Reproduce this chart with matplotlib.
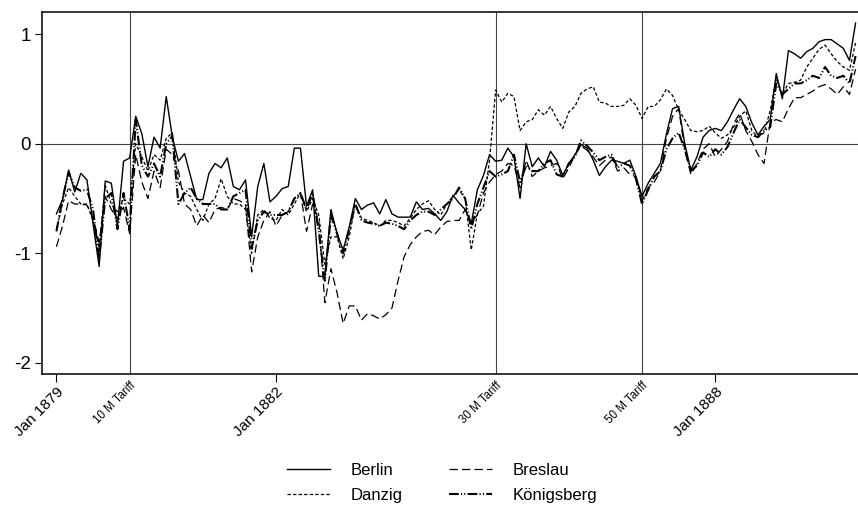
import numpy as np
import matplotlib
matplotlib.use("Agg")
import matplotlib.pyplot as plt

plt.rcParams["font.family"] = ["Liberation Sans", "DejaVu Sans"]
plt.rcParams["lines.scale_dashes"] = False

# monthly index, 0 = Jan 1879 ... 131 = Dec 1889
berlin = [
    -0.64, -0.51, -0.24, -0.44, -0.27, -0.33, -0.73, -1.12, -0.34, -0.36,
    -0.75, -0.16, -0.13, 0.25, 0.09, -0.21, 0.06, -0.04, 0.43, 0.06,
    -0.16, -0.09, -0.30, -0.51, -0.51, -0.27, -0.18, -0.22, -0.13, -0.39,
    -0.42, -0.33, -0.85, -0.39, -0.18, -0.53, -0.48, -0.41, -0.39, -0.04,
    -0.04, -0.57, -0.42, -1.21, -1.21, -0.60, -0.82, -0.97, -0.76, -0.50,
    -0.60, -0.56, -0.54, -0.64, -0.51, -0.64, -0.67, -0.67, -0.67, -0.53,
    -0.60, -0.59, -0.64, -0.70, -0.62, -0.47, -0.54, -0.60, -0.73, -0.42,
    -0.29, -0.10, -0.16, -0.15, -0.04, -0.12, -0.50, 0.00, -0.21, -0.13,
    -0.21, -0.07, -0.15, -0.29, -0.18, -0.10, -0.01, -0.04, -0.15, -0.29,
    -0.21, -0.15, -0.16, -0.18, -0.15, -0.30, -0.48, -0.36, -0.27, -0.18,
    0.09, 0.32, 0.34, 0.00, -0.24, -0.12, 0.06, 0.12, 0.14, 0.12,
    0.20, 0.31, 0.41, 0.34, 0.19, 0.08, 0.16, 0.22, 0.64, 0.41,
    0.85, 0.82, 0.78, 0.84, 0.87, 0.93, 0.95, 0.95, 0.91, 0.87,
    0.76, 1.10,
]

danzig = [
    -0.78, -0.55, -0.40, -0.48, -0.55, -0.55, -0.70, -0.95, -0.38, -0.55,
    -0.62, -0.50, -0.55, 0.00, -0.12, -0.25, -0.10, -0.15, 0.05, 0.10,
    -0.35, -0.45, -0.48, -0.60, -0.70, -0.55, -0.50, -0.32, -0.48, -0.55,
    -0.55, -0.60, -1.00, -0.65, -0.60, -0.68, -0.70, -0.60, -0.65, -0.55,
    -0.45, -0.62, -0.50, -0.65, -1.10, -0.85, -0.85, -1.05, -0.85, -0.55,
    -0.68, -0.70, -0.72, -0.75, -0.70, -0.70, -0.72, -0.75, -0.68, -0.60,
    -0.55, -0.52, -0.60, -0.65, -0.55, -0.48, -0.42, -0.50, -0.97, -0.64,
    -0.57, -0.15, 0.49, 0.38, 0.46, 0.43, 0.12, 0.20, 0.22, 0.31,
    0.26, 0.34, 0.23, 0.14, 0.29, 0.34, 0.46, 0.50, 0.52, 0.38,
    0.37, 0.34, 0.34, 0.35, 0.41, 0.35, 0.23, 0.34, 0.34, 0.40,
    0.50, 0.44, 0.31, 0.22, 0.12, 0.11, 0.12, 0.16, 0.10, 0.05,
    0.08, 0.15, 0.25, 0.30, 0.12, 0.06, 0.10, 0.30, 0.60, 0.45,
    0.55, 0.56, 0.58, 0.70, 0.78, 0.86, 0.90, 0.82, 0.75, 0.70,
    0.67, 0.92,
]

breslau = [
    -0.94, -0.75, -0.52, -0.55, -0.55, -0.56, -0.68, -0.90, -0.48, -0.60,
    -0.68, -0.58, -0.82, -0.10, -0.35, -0.50, -0.25, -0.40, -0.05, -0.10,
    -0.25, -0.55, -0.60, -0.75, -0.65, -0.72, -0.60, -0.58, -0.60, -0.50,
    -0.52, -0.55, -1.17, -0.85, -0.70, -0.62, -0.75, -0.65, -0.62, -0.50,
    -0.45, -0.80, -0.55, -0.70, -1.45, -1.14, -1.36, -1.64, -1.48, -1.48,
    -1.61, -1.55, -1.57, -1.60, -1.56, -1.50, -1.25, -1.03, -0.92, -0.85,
    -0.80, -0.79, -0.83, -0.76, -0.71, -0.70, -0.70, -0.60, -0.72, -0.65,
    -0.45, -0.35, -0.28, -0.25, -0.18, -0.20, -0.40, -0.15, -0.30, -0.25,
    -0.22, -0.20, -0.18, -0.32, -0.22, -0.10, -0.02, -0.06, -0.12, -0.20,
    -0.15, -0.12, -0.25, -0.22, -0.28, -0.30, -0.52, -0.40, -0.35, -0.25,
    0.05, 0.25, 0.32, -0.05, -0.28, -0.18, -0.05, 0.00, -0.12, -0.05,
    0.02, 0.18, 0.28, 0.12, 0.02, -0.10, -0.18, 0.20, 0.22, 0.20,
    0.32, 0.42, 0.42, 0.45, 0.48, 0.52, 0.54, 0.50, 0.45, 0.52,
    0.45, 0.68,
]

koenigsberg = [
    -0.80, -0.50, -0.26, -0.40, -0.43, -0.42, -0.60, -1.05, -0.50, -0.45,
    -0.78, -0.45, -0.78, 0.22, -0.20, -0.30, -0.18, -0.30, 0.00, 0.07,
    -0.55, -0.45, -0.40, -0.50, -0.55, -0.55, -0.55, -0.60, -0.60, -0.48,
    -0.45, -0.42, -0.95, -0.70, -0.62, -0.65, -0.65, -0.65, -0.62, -0.50,
    -0.45, -0.60, -0.45, -0.80, -1.25, -0.65, -0.82, -1.00, -0.78, -0.55,
    -0.70, -0.72, -0.73, -0.75, -0.72, -0.73, -0.75, -0.78, -0.70, -0.65,
    -0.62, -0.62, -0.65, -0.60, -0.55, -0.50, -0.40, -0.50, -0.78, -0.55,
    -0.40, -0.25, -0.30, -0.28, -0.25, -0.10, -0.35, -0.20, -0.25, -0.25,
    -0.18, -0.15, -0.28, -0.30, -0.18, -0.12, 0.03, -0.02, -0.08, -0.15,
    -0.12, -0.10, -0.22, -0.18, -0.20, -0.32, -0.55, -0.42, -0.30, -0.25,
    -0.05, 0.05, 0.10, -0.05, -0.25, -0.20, -0.08, -0.12, -0.05, -0.10,
    -0.03, 0.10, 0.22, 0.15, 0.08, 0.06, 0.12, 0.15, 0.55, 0.45,
    0.50, 0.55, 0.55, 0.58, 0.62, 0.60, 0.70, 0.62, 0.60, 0.62,
    0.55, 0.80,
]

date_ticks = [0, 36, 108]
date_labels = ["Jan 1879", "Jan 1882", "Jan 1888"]
tariff_months = [12, 72, 96]
tariff_labels = ["10 M Tariff", "30 M Tariff", "50 M Tariff"]

months = np.arange(len(berlin))

fig = plt.figure(figsize=(8.58, 5.08), dpi=100)
ax = fig.add_axes([0.049, 0.264, 0.951, 0.712])

# reference lines: zero and the tariff changes
ax.axhline(0, color="#444444", lw=0.8, zorder=1)
for m in tariff_months:
    ax.axvline(m, color="#444444", lw=0.8, zorder=1)

ax.plot(months, berlin, color="black", lw=1.0, label="Berlin")
ax.plot(months, danzig, color="black", lw=0.9, dashes=(2.4, 1.6), label="Danzig")
ax.plot(months, breslau, color="black", lw=0.9, dashes=(6, 3), label="Breslau")
ax.plot(months, koenigsberg, color="black", lw=1.5,
        dashes=(7, 1.6, 0.8, 1.6, 0.8, 1.6), label="Königsberg")

ax.set_xlim(-2.36, 131.4)
ax.set_ylim(-2.10, 1.20)

ax.set_yticks([-2, -1, 0, 1])
ax.set_yticklabels(["-2", "-1", "0", "1"])
ax.tick_params(axis="y", labelsize=13.5, length=5, width=0.8, pad=3)

ax.set_xticks(date_ticks)
ax.set_xticklabels(date_labels, rotation=45, ha="right", rotation_mode="anchor")
ax.tick_params(axis="x", which="major", labelsize=11, length=6, width=0.8, pad=2)
ax.set_xticks(tariff_months, minor=True)
ax.set_xticklabels(tariff_labels, minor=True, rotation=45, ha="right",
                   rotation_mode="anchor", fontsize=8.3)
ax.tick_params(axis="x", which="minor", length=0, pad=4)

for side in ["left", "bottom", "top"]:
    ax.spines[side].set_linewidth(1.1)
ax.spines["right"].set_visible(False)

ax.legend(loc="center", bbox_to_anchor=(0.515, 0.05), bbox_transform=fig.transFigure,
          ncol=2, frameon=False, fontsize=12, handlelength=2.6,
          columnspacing=2.8, labelspacing=0.6, handletextpad=1.2)

fig.savefig("out.png", dpi=100)
